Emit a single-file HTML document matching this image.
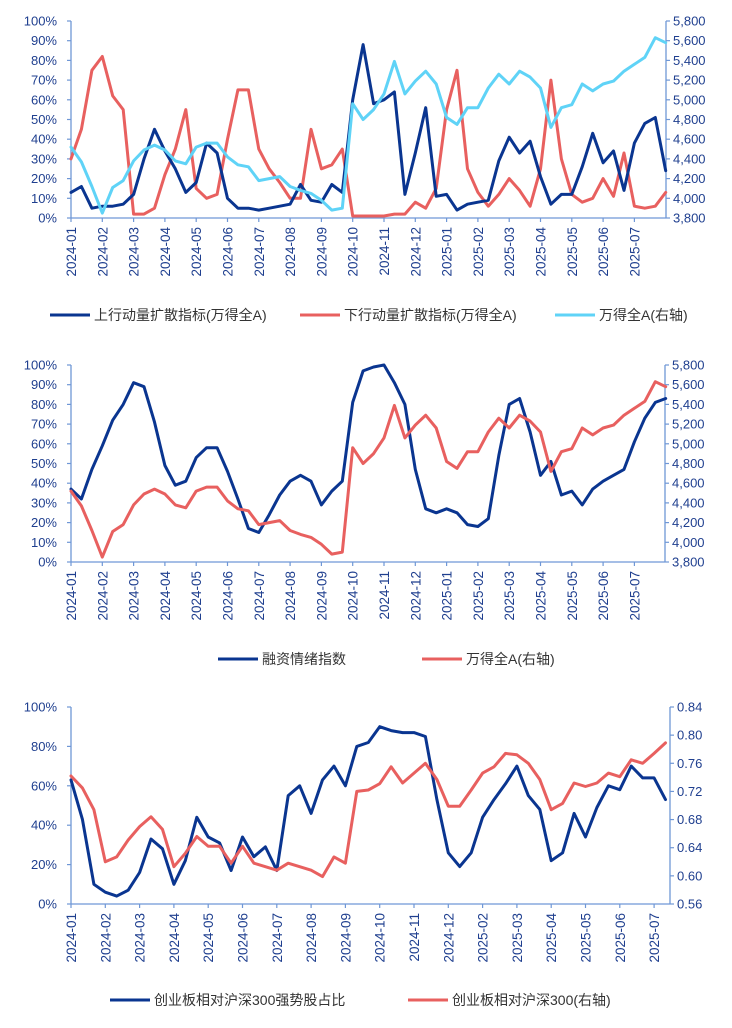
<!DOCTYPE html>
<html><head><meta charset="utf-8">
<style>
body{margin:0;background:#fff;}
svg{display:block;font-family:"Liberation Sans","Noto Sans CJK SC",sans-serif;}
</style></head>
<body>
<svg id="c" width="732" height="1028" viewBox="0 0 732 1028"></svg>
<script>
// ---------- data (step = 1/3 month) ----------
const xLabels1 = ["2024-01","2024-02","2024-03","2024-04","2024-05","2024-06","2024-07","2024-08","2024-09","2024-10","2024-11","2024-12","2025-01","2025-02","2025-03","2025-04","2025-05","2025-06","2025-07"];
const xLabels3 = ["2024-01","2024-02","2024-03","2024-04","2024-05","2024-06","2024-07","2024-08","2024-09","2024-10","2024-11","2024-12","2025-02","2025-03","2025-04","2025-05","2025-06","2025-07"];
const pctTicks10 = [0,10,20,30,40,50,60,70,80,90,100];
const pctTicks20 = [0,20,40,60,80,100];
const indexTicks = [3800,4000,4200,4400,4600,4800,5000,5200,5400,5600,5800];
const ratioTicks = [0.56,0.60,0.64,0.68,0.72,0.76,0.80,0.84];

const upDiffusion = [13,16,5,6,6,7,12,30,45,34,25,13,18,38,33,10,5,5,4,5,6,7,17,9,8,17,13,60,88,58,60,64,12,33,56,11,12,4,7,8,9,29,41,33,39,21,7,12,12,26,43,28,34,14,38,48,51,24];
const downDiffusion = [30,45,75,82,62,55,2,2,5,22,35,55,15,10,12,40,65,65,35,25,18,10,10,45,25,27,35,1,1,1,1,2,2,8,5,15,55,75,25,13,6,12,20,14,6,25,70,30,12,8,10,20,11,33,6,5,6,13];
const windA = [4520,4370,4120,3850,4110,4180,4380,4490,4540,4490,4380,4350,4520,4560,4560,4420,4340,4320,4180,4200,4220,4120,4080,4050,3980,3880,3900,4960,4800,4900,5060,5390,5060,5190,5290,5160,4820,4750,4920,4920,5120,5260,5160,5290,5230,5120,4720,4920,4950,5160,5090,5160,5190,5290,5360,5430,5630,5580];
const marginSentiment = [37,32,47,59,72,80,91,89,71,49,39,41,53,58,58,46,32,17,15,24,34,41,44,41,29,36,41,81,97,99,100,91,80,47,27,25,27,25,19,18,22,54,80,83,66,44,51,34,36,29,37,41,44,47,61,73,81,83];
const gemStrongShare = [63,43,10,6,4,7,16,33,28,10,22,44,34,31,17,34,24,29,17,55,60,46,63,70,60,80,82,90,88,87,87,85,53,26,19,26,44,53,61,70,55,48,22,26,46,34,49,60,58,70,64,64,53];
const gemRelative = [0.742,0.725,0.694,0.62,0.627,0.651,0.670,0.684,0.666,0.613,0.632,0.656,0.642,0.642,0.618,0.642,0.618,0.613,0.608,0.618,0.613,0.608,0.599,0.627,0.618,0.72,0.722,0.731,0.755,0.732,0.746,0.760,0.737,0.699,0.699,0.722,0.746,0.755,0.774,0.772,0.760,0.737,0.694,0.703,0.732,0.727,0.732,0.746,0.741,0.765,0.760,0.774,0.789];

// ---------- helpers ----------
const NS="http://www.w3.org/2000/svg";
const svg=document.getElementById('c');
function mk(tag,attrs,parent){const e=document.createElementNS(NS,tag);for(const k in attrs)e.setAttribute(k,attrs[k]);(parent||svg).appendChild(e);return e;}
const AX="#6f97d6", TXT="#1f3f8f";
const DARK="#0a3590", RED="#e8605f", LIGHT="#5fd3f7";

function panel(cfg){
  const g=mk('g',{});
  
  
  const L=71,R=cfg.right,T=cfg.top,B=cfg.bottom;
  const yL=v=>B-(v-cfg.lmin)/(cfg.lmax-cfg.lmin)*(B-T);
  const yR=v=>B-(v-cfg.rmin)/(cfg.rmax-cfg.rmin)*(B-T);
  const xI=i=>L+i*cfg.month/3;
  const la=mk('line',{x1:L,y1:T,x2:L,y2:B,stroke:AX,'stroke-width':1.3},g);
  
  const ra=mk('line',{x1:R,y1:T,x2:R,y2:B,stroke:AX,'stroke-width':1.3},g);
  
  const xa=mk('line',{x1:L,y1:B,x2:R,y2:B,stroke:AX,'stroke-width':1.3},g);
  
  cfg.lticks.forEach(v=>{
    const y=yL(v);
    mk('line',{x1:L-4,y1:y,x2:L,y2:y,stroke:AX,'stroke-width':1.2},g);
    const t=mk('text',{x:57,y:y+4.5,'text-anchor':'end','font-size':13,fill:TXT},g);
    t.textContent=v+'%';
    
  });
  cfg.rticks.forEach(v=>{
    const y=yR(v);
    mk('line',{x1:R,y1:y,x2:R+4,y2:y,stroke:AX,'stroke-width':1.2},g);
    const t=mk('text',{x:R+7,y:y+4.5,'text-anchor':'start','font-size':13,fill:TXT},g);
    t.textContent=cfg.rfmt(v);
    
  });
  cfg.xlabels.forEach((lab,k)=>{
    const x=L+k*cfg.month;
    mk('line',{x1:x,y1:B,x2:x,y2:B+4,stroke:AX,'stroke-width':1.2},g);
    const t=mk('text',{x:x+5,y:B+9,'text-anchor':'end','font-size':13.5,fill:TXT,transform:`rotate(-90 ${x+5} ${B+9})`},g);
    t.textContent=lab;
    
  });
  cfg.series.forEach(s=>{
    const sc=s.axis==='r'?yR:yL;
    const d=s.data.map((v,i)=>(i?'L':'M')+xI(i).toFixed(1)+' '+sc(v).toFixed(1)).join(' ');
    const p=mk('path',{d:d,fill:'none',stroke:s.color,'stroke-width':3,'stroke-linejoin':'round','stroke-linecap':'round'},g);
    
  });
  cfg.legend.forEach(l=>{
    const ln=mk('line',{x1:l.x,y1:l.y,x2:l.x+40,y2:l.y,stroke:l.color,'stroke-width':3},g);
    
    const t=mk('text',{x:l.x+44,y:l.y+5,'font-size':14,fill:'#333'},g);
    t.textContent=l.text;
    
  });
}
const fmtIdx=v=>v.toLocaleString('en-US');
panel({name:'momentum-diffusion-panel',top:21,bottom:218,right:666,month:31.3,lmin:0,lmax:100,rmin:3800,rmax:5800,
  lticks:pctTicks10,rticks:indexTicks,rfmt:fmtIdx,xlabels:xLabels1,
  series:[{name:'downward-diffusion-line',data:downDiffusion,color:RED},
          {name:'upward-diffusion-line',data:upDiffusion,color:DARK},
          {name:'wind-a-line',data:windA,color:LIGHT,axis:'r'}],
  legend:[{x:50,y:315,color:DARK,text:'上行动量扩散指标(万得全A)'},
          {x:300,y:315,color:RED,text:'下行动量扩散指标(万得全A)'},
          {x:555,y:315,color:LIGHT,text:'万得全A(右轴)'}]});
panel({name:'margin-sentiment-panel',top:365,bottom:562,right:665,month:31.3,lmin:0,lmax:100,rmin:3800,rmax:5800,
  lticks:pctTicks10,rticks:indexTicks,rfmt:fmtIdx,xlabels:xLabels1,
  series:[{name:'margin-sentiment-line',data:marginSentiment,color:DARK},
          {name:'wind-a-line-2',data:windA,color:RED,axis:'r'}],
  legend:[{x:218,y:659,color:DARK,text:'融资情绪指数'},
          {x:422,y:659,color:RED,text:'万得全A(右轴)'}]});
panel({name:'gem-relative-panel',top:707,bottom:904,right:670,month:34.3,lmin:0,lmax:100,rmin:0.56,rmax:0.84,
  lticks:pctTicks20,rticks:ratioTicks,rfmt:v=>v.toFixed(2),xlabels:xLabels3,
  series:[{name:'gem-strong-share-line',data:gemStrongShare,color:DARK},
          {name:'gem-relative-line',data:gemRelative,color:RED,axis:'r'}],
  legend:[{x:110,y:1000,color:DARK,text:'创业板相对沪深300强势股占比'},
          {x:408,y:1000,color:RED,text:'创业板相对沪深300(右轴)'}]});
</script>
</body></html>
